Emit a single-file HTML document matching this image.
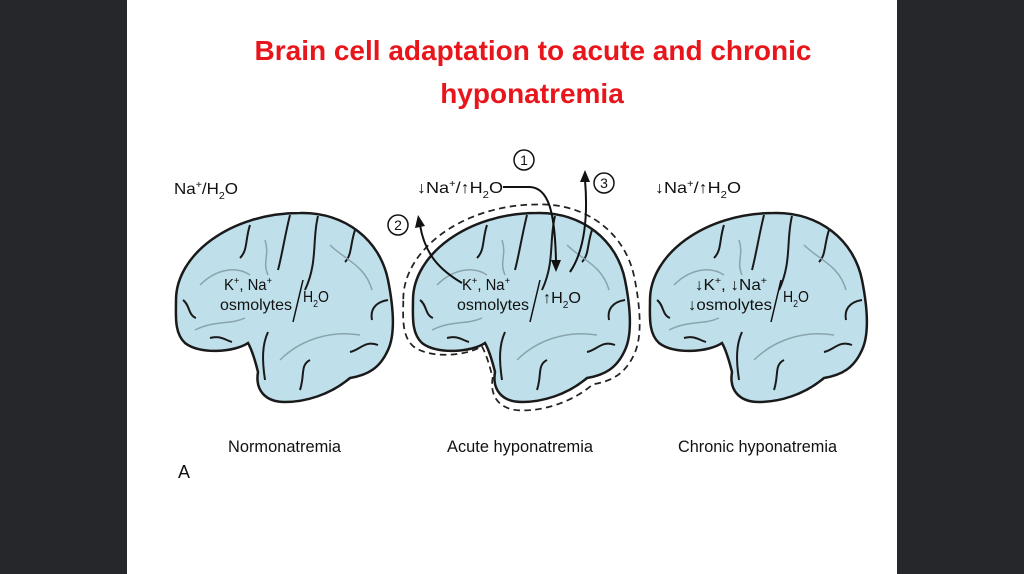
<!DOCTYPE html>
<html><head><meta charset="utf-8"><style>
html,body{margin:0;padding:0;width:1024px;height:574px;overflow:hidden;background:#26272b;}
.panel{position:absolute;left:127px;top:0;width:770px;height:574px;background:#fff;}
.title{position:absolute;left:127px;width:770px;text-align:center;color:#e8151b;font:bold 28px "Liberation Sans",sans-serif;}
svg{position:absolute;left:0;top:0;}
text{font-family:"Liberation Sans",sans-serif;fill:#111;}
</style></head><body>
<div class="panel"></div>
<div class="title" style="top:35px;left:148px">Brain cell adaptation to acute and chronic</div>
<div class="title" style="top:78px;left:147px">hyponatremia</div>
<svg width="1024" height="574" viewBox="0 0 1024 574">
<defs>
<path id="br" d="M176,300 C176,255 230,213 300,213 C345,212 380,240 388,280 C394,310 395,335 388,350 C380,368 368,375 350,378 C330,395 305,402 285,402 C265,402 255,390 258,372 C255,360 252,350 248,343 C235,352 200,355 185,343 C174,333 176,315 176,300 Z"/>
<g id="brain">
<use href="#br" fill="#bfe0ea" stroke="#1a1a1a" stroke-width="2.5"/>
<g fill="none" stroke="#1a1a1a" stroke-width="2">
<path d="M290,215 C285,235 282,255 278,270"/>
<path d="M318,216 C312,240 318,262 305,290"/>
<path d="M355,230 C350,245 352,255 345,262"/>
<path d="M250,225 C245,240 248,250 240,258"/>
<path d="M388,300 C375,302 370,310 372,320"/>
<path d="M378,345 C365,340 360,350 350,352"/>
<path d="M183,300 C190,305 188,315 196,318"/>
<path d="M268,332 C262,345 262,360 265,380"/>
<path d="M210,338 C220,335 225,340 232,342"/>
<path d="M300,390 C305,375 300,365 310,360"/>
</g>
<g fill="none" stroke="#8aa4ad" stroke-width="1.5">
<path d="M200,285 C215,270 235,265 250,275"/>
<path d="M330,245 C345,260 365,265 372,290"/>
<path d="M280,360 C300,340 330,330 360,335"/>
<path d="M195,330 C215,320 230,325 245,318"/>
<path d="M265,240 C270,255 262,262 268,275"/>
</g>
</g>
</defs>
<use href="#brain"/>
<g transform="translate(237,0)">
<use href="#br" transform="translate(284,308) scale(1.09) translate(-284,-308)" fill="none" stroke="#222" stroke-width="1.6" stroke-dasharray="6,4"/>
<use href="#brain"/>
</g>
<use href="#brain" transform="translate(474,0)"/>

<g font-size="16">
<text x="174" y="194" textLength="64" lengthAdjust="spacingAndGlyphs">Na<tspan font-size="10" dy="-6">+</tspan><tspan dy="6">/H</tspan><tspan font-size="10" dy="5">2</tspan><tspan dy="-5">O</tspan></text>
<text x="224" y="290" textLength="48" lengthAdjust="spacingAndGlyphs">K<tspan font-size="10" dy="-6">+</tspan><tspan dy="6">, Na</tspan><tspan font-size="10" dy="-6">+</tspan></text>
<text x="220" y="310" textLength="72" lengthAdjust="spacingAndGlyphs">osmolytes</text>
<text x="303" y="302" textLength="26" lengthAdjust="spacingAndGlyphs">H<tspan font-size="10" dy="5">2</tspan><tspan dy="-5">O</tspan></text>
<line x1="293" y1="322" x2="303" y2="280" stroke="#111" stroke-width="1.5"/>

<text x="417" y="193" textLength="86" lengthAdjust="spacingAndGlyphs">↓Na<tspan font-size="10" dy="-6">+</tspan><tspan dy="6">/↑H</tspan><tspan font-size="10" dy="5">2</tspan><tspan dy="-5">O</tspan></text>
<text x="462" y="290" textLength="48" lengthAdjust="spacingAndGlyphs">K<tspan font-size="10" dy="-6">+</tspan><tspan dy="6">, Na</tspan><tspan font-size="10" dy="-6">+</tspan></text>
<text x="457" y="310" textLength="72" lengthAdjust="spacingAndGlyphs">osmolytes</text>
<text x="543" y="303" textLength="38" lengthAdjust="spacingAndGlyphs">↑H<tspan font-size="10" dy="5">2</tspan><tspan dy="-5">O</tspan></text>
<line x1="530" y1="322" x2="540" y2="280" stroke="#111" stroke-width="1.5"/>

<text x="655" y="193" textLength="86" lengthAdjust="spacingAndGlyphs">↓Na<tspan font-size="10" dy="-6">+</tspan><tspan dy="6">/↑H</tspan><tspan font-size="10" dy="5">2</tspan><tspan dy="-5">O</tspan></text>
<text x="695" y="290" textLength="72" lengthAdjust="spacingAndGlyphs">↓K<tspan font-size="10" dy="-6">+</tspan><tspan dy="6">, ↓Na</tspan><tspan font-size="10" dy="-6">+</tspan></text>
<text x="688" y="310" textLength="84" lengthAdjust="spacingAndGlyphs">↓osmolytes</text>
<text x="783" y="302" textLength="26" lengthAdjust="spacingAndGlyphs">H<tspan font-size="10" dy="5">2</tspan><tspan dy="-5">O</tspan></text>
<line x1="771" y1="322" x2="781" y2="280" stroke="#111" stroke-width="1.5"/>

<text x="228" y="452" font-size="17" textLength="113" lengthAdjust="spacingAndGlyphs">Normonatremia</text>
<text x="447" y="452" font-size="17" textLength="146" lengthAdjust="spacingAndGlyphs">Acute hyponatremia</text>
<text x="678" y="452" font-size="17" textLength="159" lengthAdjust="spacingAndGlyphs">Chronic hyponatremia</text>
<text x="178" y="478" font-size="18">A</text>
</g>
<g fill="none" stroke="#111" stroke-width="2">
<path d="M503,187 L530,187 C548,188 555,210 556,262"/>
<path d="M570,272 C585,250 588,215 585,180"/>
<path d="M462,283 C440,270 425,255 420,225"/>
<circle cx="524" cy="160" r="10" stroke-width="1.5"/>
<circle cx="604" cy="183" r="10" stroke-width="1.5"/>
<circle cx="398" cy="225" r="10" stroke-width="1.5"/>
</g>
<g fill="#111">
<path d="M551,260 L561,260 L556,272 Z"/>
<path d="M580,182 L590,182 L585,170 Z"/>
<path d="M415,228 L425,226 L418,215 Z"/>
</g>
<g font-size="14" text-anchor="middle">
<text x="524" y="165">1</text>
<text x="604" y="188">3</text>
<text x="398" y="230">2</text>
</g>
</svg>
</body></html>
